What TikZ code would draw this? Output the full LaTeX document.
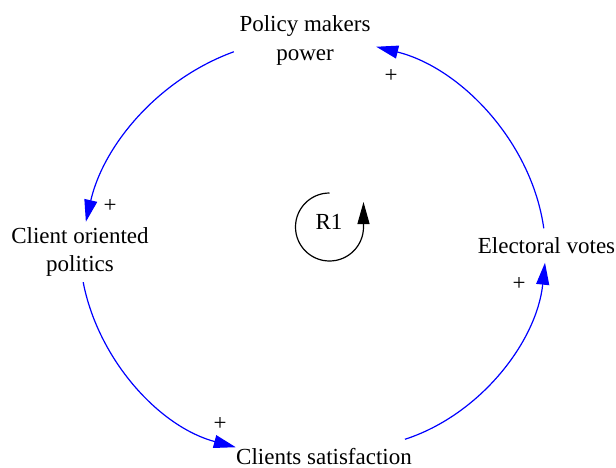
\documentclass[tikz,border=0pt]{standalone}
\usepackage{fontspec}
\setmainfont{Liberation Serif}
\newfontfamily\tnr{Liberation Serif}
\usetikzlibrary{arrows.meta}
\begin{document}
\begin{tikzpicture}[x=1pt,y=1pt,
  lbl/.style={font=\tnr\fontsize{23}{28.5}\selectfont, align=center, inner sep=0pt},
  link/.style={draw=blue, line width=1.2pt, looseness=0.9, -{Triangle[length=22pt,width=13pt]}},
  loopar/.style={draw=black, line width=1.2pt, -{Triangle[length=22pt,width=12pt]}}]
\useasboundingbox (0,0) rectangle (616,-468);
\node[lbl, minimum width=142pt, minimum height=60pt] (pmp) at (305,-40.5) {Policy makers\\power};
\node[lbl, minimum width=150pt, minimum height=60pt] (cop) at (80,-252) {Client oriented\\politics};
\node[lbl, minimum width=140pt, minimum height=34pt] (ev) at (546.5,-245.5) {Electoral votes};
\node[lbl, minimum width=176pt, minimum height=34pt] (cs) at (324,-456.5) {Clients satisfaction};
\node[lbl] (r1) at (329,-222) {R1};
\node[lbl] (p1) at (391,-76) {+};
\node[lbl] (p2) at (110,-206) {+};
\node[lbl] (p3) at (220,-424) {+};
\node[lbl] (p4) at (519,-284) {+};
\draw[link] (pmp.189) to[out=200, in=77] (cop.79);
\draw[link] (cop.276) to[out=281, in=165] (cs.174);
\draw[link] (cs.12.6) to[out=18, in=264] (ev.265);
\draw[link] (ev.99) to[out=98, in=346] (pmp.355.6);
\draw[loopar] (329.5,-227) ++(90:34) arc[start angle=90, end angle=360, radius=34] -- ++(0,25);
\end{tikzpicture}
\end{document}
